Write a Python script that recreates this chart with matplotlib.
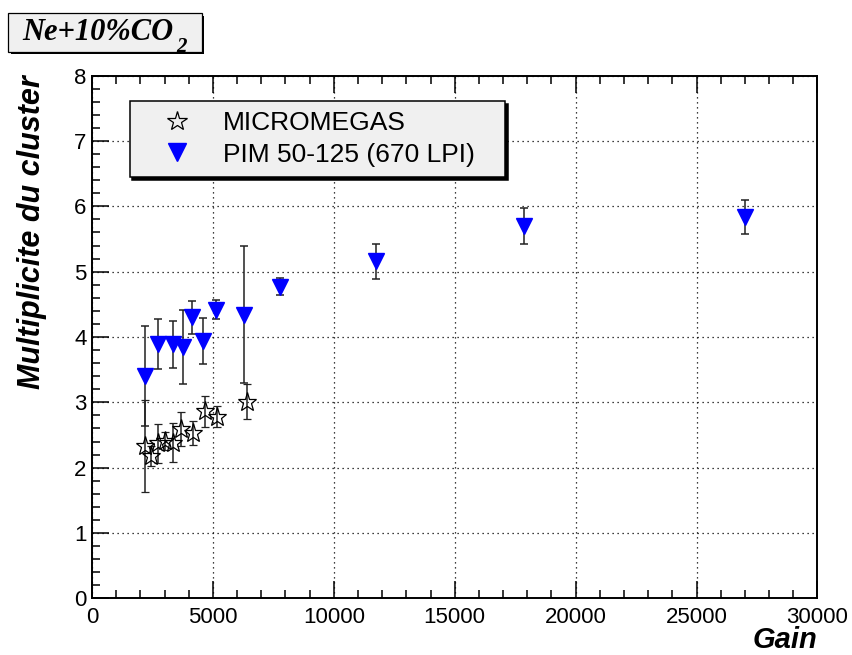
import matplotlib.pyplot as plt
import matplotlib.lines as mlines
from matplotlib.patches import Rectangle
from matplotlib.text import Annotation

plt.rcParams['font.family'] = ['Liberation Sans', 'DejaVu Sans']

# MICROMEGAS (open stars)
mm_gain = [2180, 2460, 2730, 3010, 3330, 3700, 4180, 4660, 5170, 6390]
mm_mult = [2.33, 2.18, 2.37, 2.41, 2.38, 2.59, 2.53, 2.86, 2.78, 3.01]
mm_err = [0.70, 0.15, 0.30, 0.14, 0.30, 0.26, 0.18, 0.24, 0.16, 0.27]

# PIM 50-125 (670 LPI) (blue triangles)
pim_gain = [2210, 2730, 3350, 3770, 4150, 4610, 5120, 6290, 7770, 11760, 17850, 27000]
pim_mult = [3.40, 3.89, 3.89, 3.85, 4.30, 3.94, 4.42, 4.34, 4.77, 5.16, 5.70, 5.84]
pim_err = [0.77, 0.38, 0.36, 0.57, 0.25, 0.35, 0.15, 1.05, 0.13, 0.27, 0.27, 0.26]

x_ticks = [0, 5000, 10000, 15000, 20000, 25000, 30000]
y_ticks = [0, 1, 2, 3, 4, 5, 6, 7, 8]

W, H = 853, 655
fig = plt.figure(figsize=(W / 100, H / 100), dpi=100)
# axes box in pixels: left 92, right 818, top 76, bottom 598
ax = fig.add_axes([92 / W, 1 - 598.3 / H, (817.7 - 92.3) / W, (598.3 - 75.7) / H])

ax.set_xlim(0, 30000)
ax.set_ylim(0, 8)

bar_kw = dict(ls='none', ecolor='#222222', elinewidth=1.1, capsize=3, capthick=1.1)
ax.errorbar(pim_gain, pim_mult, yerr=pim_err, marker='v', ms=12, mfc='#0000ff',
            mec='#0000ff', zorder=3, **bar_kw)
ax.errorbar(mm_gain, mm_mult, yerr=mm_err, marker='*', ms=14, mfc='none',
            mec='black', mew=0.9, zorder=4, **bar_kw)

# ticks / grid (ROOT style)
ax.set_xticks(x_ticks)
ax.set_yticks(y_ticks)
ax.set_xticks(range(0, 30001, 1000), minor=True)
ax.set_yticks([i * 0.2 for i in range(41)], minor=True)
ax.tick_params(which='both', direction='in', top=True, right=False,
               labelsize=16, width=1.1)
ax.tick_params(axis='x', which='major', length=12, pad=6)
ax.tick_params(axis='y', which='major', length=12, pad=4)
ax.tick_params(which='minor', length=6)
ax.grid(True, which='major', color='black', linestyle=(0, (1, 3)), linewidth=0.9)
for s in ax.spines.values():
    s.set_linewidth(1.4)

# axis titles
fig.text(32.5 / W, 1 - 75 / H, 'Multiplicite du cluster', rotation=90,
         ha='center', va='top', fontsize=22, fontweight='bold', fontstyle='italic')
fig.text(817 / W, 1 - 648 / H, 'Gain', ha='right', va='baseline',
         fontsize=21, fontweight='bold', fontstyle='italic')

# legend
h_mm = mlines.Line2D([], [], ls='none', marker='*', ms=15, mfc='none', mec='black', mew=0.9)
h_pim = mlines.Line2D([], [], ls='none', marker='v', ms=13, mfc='#0000ff', mec='#0000ff')
leg = ax.legend([h_mm, h_pim], ['MICROMEGAS', 'PIM 50-125 (670 LPI)'],
                loc='upper left', bbox_to_anchor=(0.052, 0.806, 0.517, 0.146),
                mode='expand', borderaxespad=0, fontsize=19, labelspacing=0.3,
                borderpad=0.38, handlelength=2.85, handletextpad=0.3,
                fancybox=False, framealpha=1, facecolor='#f0f0f0', edgecolor='black',
                shadow={'color': 'black', 'alpha': 1})
leg.get_frame().set_linewidth(1.1)

# title box
bx0, by0, bx1, by1 = 8.3, 13.3, 202, 51.7
fig.add_artist(Rectangle(((bx0 + 2.5) / W, 1 - (by1 + 2.5) / H), (bx1 - bx0) / W,
                         (by1 - by0) / H, transform=fig.transFigure,
                         facecolor='black', edgecolor='black', lw=0))
fig.add_artist(Rectangle((bx0 / W, 1 - by1 / H), (bx1 - bx0) / W, (by1 - by0) / H,
                         transform=fig.transFigure, facecolor='#f0f0f0',
                         edgecolor='black', lw=0.9))
t = fig.text(22.7 / W, 1 - 40 / H, 'Ne+10%CO', ha='left', va='baseline',
             fontsize=22, fontweight='bold', fontstyle='italic',
             family=['Liberation Serif', 'DejaVu Serif'])
sub = Annotation('2', xy=(1, 0), xycoords=t, xytext=(2, -3.5), textcoords='offset points',
                 ha='left', va='baseline', fontsize=15, fontweight='bold',
                 fontstyle='italic', family=['Liberation Serif', 'DejaVu Serif'])
fig.add_artist(sub)

fig.savefig('out.png', dpi=100, facecolor='white')
